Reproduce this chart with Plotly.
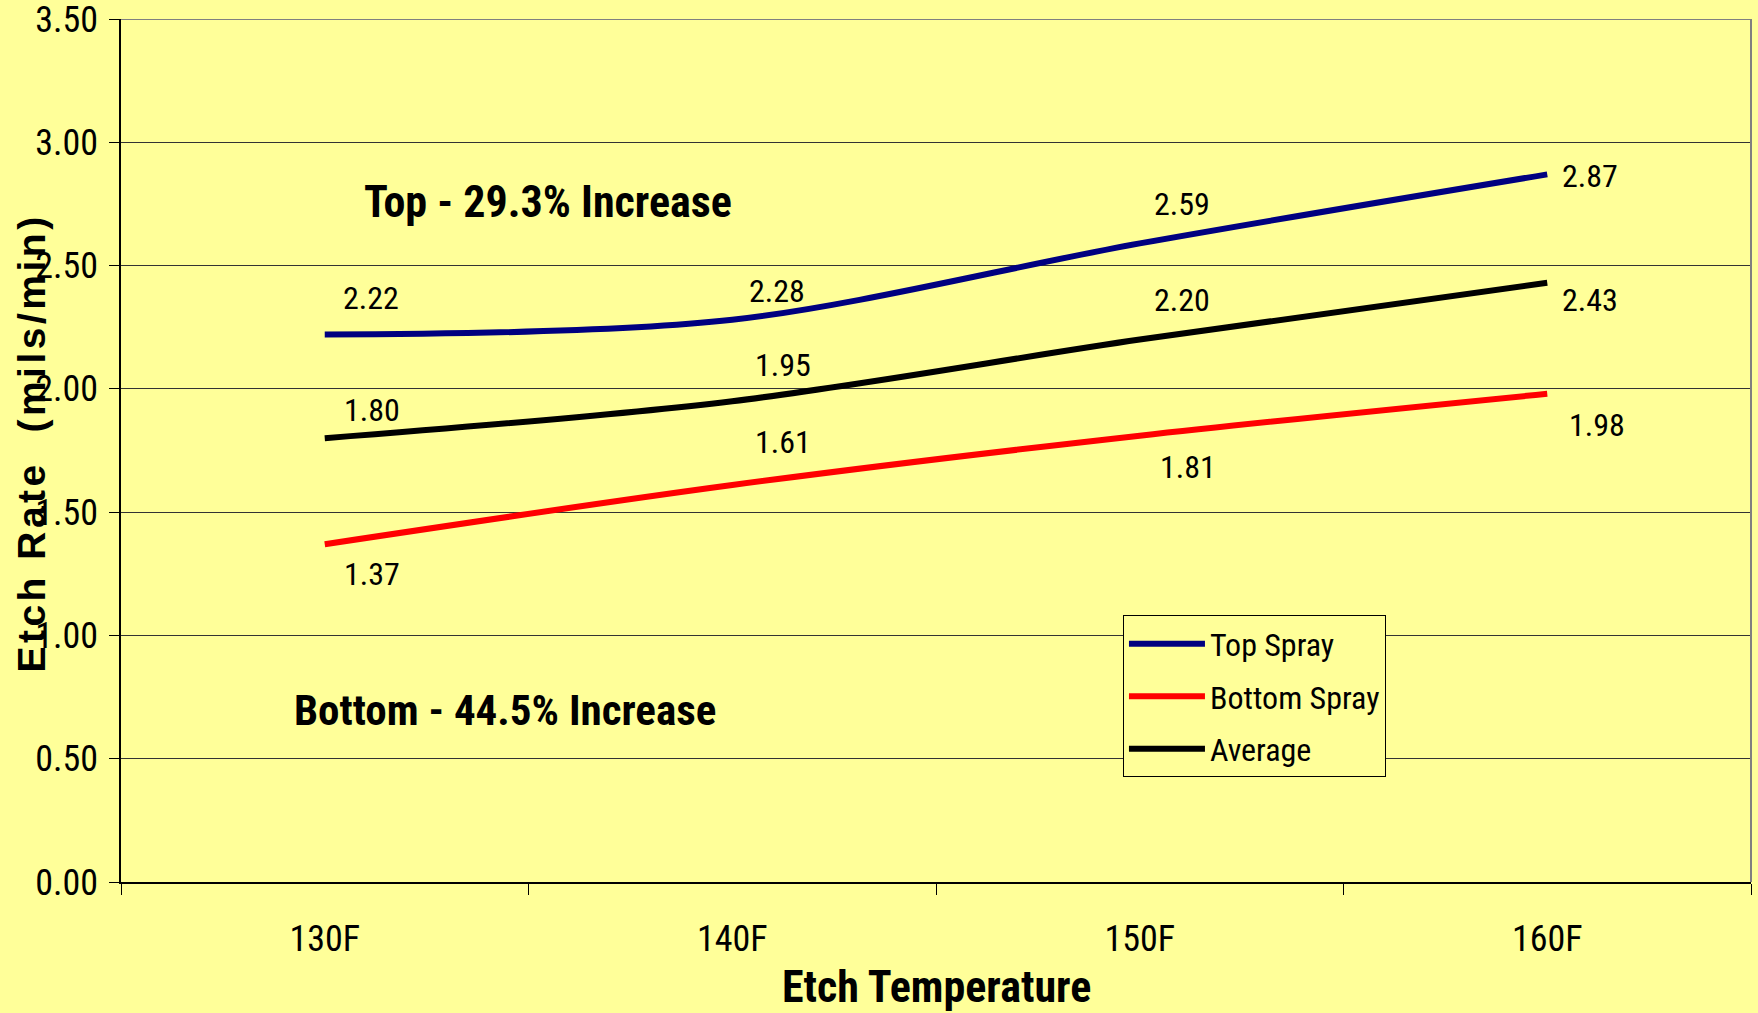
import plotly.graph_objects as go

# Etch rate (mils/min) by etch temperature
temps = ["130F", "140F", "150F", "160F"]
top_spray = [2.22, 2.28, 2.59, 2.87]
bottom_spray = [1.37, 1.61, 1.81, 1.98]
average = [1.80, 1.95, 2.20, 2.43]
y_tick_vals = [0.0, 0.5, 1.0, 1.5, 2.0, 2.5, 3.0, 3.5]
y_max = 3.5

# pixel offsets (dx, dy) of each value label from its point
top_label_shift = [(46, 37), (45, 29), (42, 39), (43, -2)]
avg_label_shift = [(47, 28), (51, 36), (42, 40), (43, -17)]
bot_label_shift = [(47, -30), (51, 43), (48, -31), (50, -31)]

BG = "#FFFF99"
NARROW = "Liberation Sans Narrow, Arial Narrow, Roboto Condensed, sans-serif"
BOLD_WIDE = "Liberation Sans, Arial, sans-serif"

series = [
    ("Top Spray", top_spray, "#000080", top_label_shift),
    ("Bottom Spray", bottom_spray, "#FF0000", bot_label_shift),
    ("Average", average, "#000000", avg_label_shift),
]

fig = go.Figure()
for i, (name, vals, color, _) in enumerate(series):
    fig.add_trace(go.Scatter(
        x=temps, y=vals, name=name, mode="lines",
        line=dict(color=color, width=6, shape="spline", smoothing=0.9),
        legendgroup=f"g{i}",
    ))

annotations = []
for name, vals, color, shifts in series:
    for t, v, (dx, dy) in zip(temps, vals, shifts):
        annotations.append(dict(
            x=t, y=v, xref="x", yref="y", text=f"{v:.2f}", showarrow=False,
            xshift=dx, yshift=dy, font=dict(family=NARROW, size=32, color="black"),
        ))

annotations += [
    dict(x=0.262, y=0.788, xref="paper", yref="paper", text="<b>Top - 29.3% Increase</b>",
         showarrow=False, xanchor="center", yanchor="middle",
         font=dict(family=NARROW, size=44, color="black")),
    dict(x=0.2356, y=0.199, xref="paper", yref="paper", text="<b>Bottom - 44.5% Increase</b>",
         showarrow=False, xanchor="center", yanchor="middle",
         font=dict(family=NARROW, size=43, color="black")),
    dict(x=-0.0546, y=0.508, xref="paper", yref="paper", textangle=-90,
         text='<span style="letter-spacing:3.5px"><b>Etch Rate  (mils/min)</b></span>',
         showarrow=False, xanchor="center", yanchor="middle",
         font=dict(family=BOLD_WIDE, size=39, color="black")),
    dict(x=0.5, y=-0.122, xref="paper", yref="paper", text="<b>Etch Temperature</b>",
         showarrow=False, xanchor="center", yanchor="middle",
         font=dict(family=NARROW, size=44, color="black")),
]

fig.update_layout(
    width=1758, height=1013,
    margin=dict(l=121, r=7, t=19, b=131),
    paper_bgcolor=BG, plot_bgcolor=BG,
    font=dict(family=NARROW, size=36, color="black"),
    showlegend=True,
    legend=dict(
        x=0.6147, y=0.309, xanchor="left", yanchor="top",
        bgcolor=BG, bordercolor="black", borderwidth=1,
        font=dict(family=NARROW, size=32, color="black"),
        traceorder="grouped", tracegroupgap=8, itemwidth=76,
    ),
    annotations=annotations,
    xaxis=dict(
        type="category", range=[-0.5, 3.5], tickson="boundaries",
        ticks="outside", ticklen=11, tickcolor="black", tickwidth=1,
        showline=True, linecolor="black", linewidth=2,
        showgrid=False, zeroline=False, mirror=False,
        ticklabelstandoff=24, automargin=False,
        tickfont=dict(family=NARROW, size=36),
    ),
    yaxis=dict(
        range=[0, y_max], tickvals=y_tick_vals, ticktext=[f"{v:.2f}" for v in y_tick_vals],
        ticks="outside", ticklen=10, tickcolor="black", tickwidth=1,
        showline=True, linecolor="black", linewidth=1.5,
        showgrid=True, gridcolor="#333333", gridwidth=1, zeroline=False,
        ticklabelstandoff=4, ticklabeloverflow="allow", automargin=False,
        tickfont=dict(family=NARROW, size=36),
    ),
    shapes=[
        # grey frame on the top and right of the plot area
        dict(type="line", xref="x domain", yref="y", x0=0, x1=1, y0=y_max, y1=y_max,
             line=dict(color="#808080", width=2), layer="above"),
        dict(type="line", xref="x domain", yref="y domain", x0=1, x1=1, y0=0, y1=1,
             line=dict(color="#808080", width=2), layer="above"),
    ],
)

fig.write_html("out.html")
